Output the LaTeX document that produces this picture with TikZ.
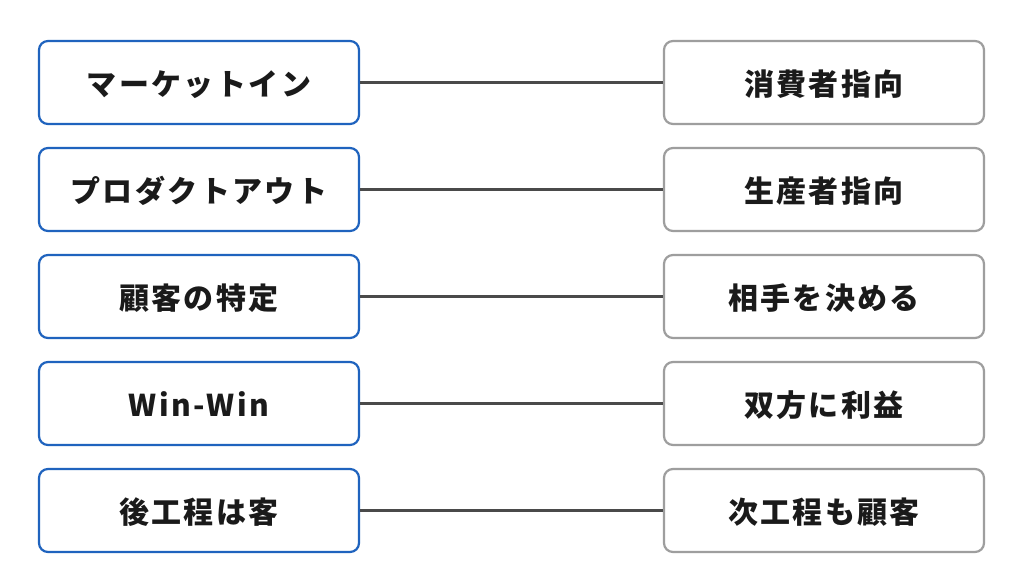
\documentclass[tikz,border=0pt]{standalone}
\usepackage{fontspec}
\newfontfamily\jp[LetterSpace=8]{Noto Sans CJK JP}
\definecolor{bblue}{HTML}{1F63BE}
\definecolor{bgray}{HTML}{9E9E9E}
\definecolor{lgray}{HTML}{4A4A4A}
\definecolor{txt}{HTML}{1A1A1A}
\tikzset{
  box/.style={rounded corners=9pt, line width=2.2pt, fill=white, minimum width=320pt, minimum height=83pt, inner sep=0pt, text height=28pt, text depth=1.2pt, text=txt, font=\jp\bfseries\fontsize{30}{34}\selectfont},
  lbox/.style={box, draw=bblue},
  rbox/.style={box, draw=bgray},
  conn/.style={draw=lgray, line width=2.2pt}
}
\begin{document}
\begin{tikzpicture}[x=1pt,y=-1pt]
\useasboundingbox[fill=white] (0,0) rectangle (1024,576);
\foreach \i/\l/\r in {1/マーケットイン/消費者指向, 2/プロダクトアウト/生産者指向, 3/顧客の特定/相手を決める, 4/Win-Win/双方に利益, 5/後工程は客/次工程も顧客}{
  \pgfmathsetmacro{\yy}{82.5+(\i-1)*107}
  \node[lbox] (L\i) at (199,\yy) {\l};
  \node[rbox] (R\i) at (824,\yy) {\r};
  \draw[conn] (L\i.east) -- (R\i.west);
}
\end{tikzpicture}
\end{document}
